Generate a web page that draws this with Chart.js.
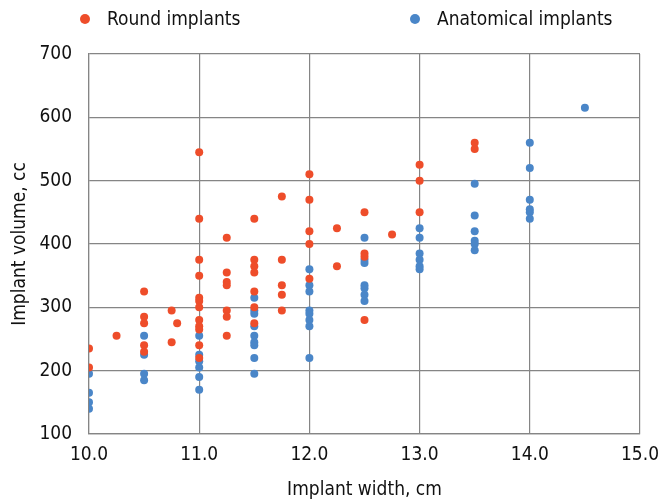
<!DOCTYPE html>
<html>
<head>
<meta charset="utf-8">
<script src="https://cdn.jsdelivr.net/npm/chart.js@4.4.1/dist/chart.umd.min.js"></script>
<style>
    html, body { margin: 0; padding: 0; background: #fff; }
    #wrap { width: 659px; height: 502px; position: relative; }
</style>
</head>
<body>
<div id="wrap"><canvas id="chartImplants"></canvas></div>
<script>
"use strict";

//--------------------------------data---------------------------------
const roundWidth = [
    10, 10,
    10.25,
    10.5, 10.5, 10.5, 10.5, 10.5,
    10.75, 10.75, 10.8,
    11, 11, 11, 11, 11, 11, 11, 11, 11, 11, 11, 11,
    11.25, 11.25, 11.25, 11.25, 11.25, 11.25, 11.25,
    11.5, 11.5, 11.5, 11.5, 11.5, 11.5, 11.5,
    11.75, 11.75, 11.75, 11.75, 11.75,
    12, 12, 12, 12, 12,
    12.25, 12.25,
    12.5, 12.5, 12.5, 12.5,
    12.75,
    13, 13, 13,
    13.5, 13.5
];
const roundVolume = [
    235, 205,
    255,
    325, 285, 275, 240, 230,
    295, 245, 275,
    545, 440, 375, 350, 315, 310, 300, 280, 270, 265, 240, 220,
    410, 355, 340, 335, 295, 285, 255,
    440, 375, 365, 355, 325, 300, 275,
    475, 375, 335, 320, 295,
    510, 470, 420, 400, 345,
    425, 365,
    450, 385, 380, 280,
    415,
    525, 500, 450,
    560, 550
];

const anatWidth = [
    10, 10, 10, 10,
    10.5, 10.5, 10.5, 10.5,
    11, 11, 11, 11, 11, 11,
    11.5, 11.5, 11.5, 11.5, 11.5, 11.5, 11.5, 11.5, 11.5,
    12, 12, 12, 12, 12, 12, 12, 12,
    12.5, 12.5, 12.5, 12.5, 12.5, 12.5, 12.5,
    13, 13, 13, 13, 13, 13,
    13.5, 13.5, 13.5, 13.5, 13.5, 13.5,
    14, 14, 14, 14, 14, 14,
    14.5
];
const anatVolume = [
    195, 165, 150, 140,
    255, 225, 195, 185,
    255, 225, 215, 205, 190, 170,
    315, 295, 290, 270, 255, 245, 240, 220, 195,
    360, 335, 325, 295, 290, 280, 270, 220,
    410, 375, 370, 335, 330, 320, 310,
    425, 410, 385, 375, 365, 360,
    495, 445, 420, 405, 400, 390,
    560, 520, 470, 455, 450, 440,
    615
];

const seriesNames = ['Round implants', 'Anatomical implants'];
const seriesColors = ['#EE4D2A', '#4A86C8'];

const xTitle = 'Implant width, cm';
const yTitle = 'Implant volume, cc';
//--------------------------------end data---------------------------------

const FONT = '"DejaVu Sans Condensed", "DejaVu Sans", sans-serif';
const GRID = '#858585';

function toPoints(xs, ys) {
    return xs.map((x, i) => ({ x: x, y: ys[i] }));
}

// legend drawn at top, items spread apart like the reference
const topLegend = {
    id: 'topLegend',
    afterDraw(chart) {
        const ctx = chart.ctx;
        const spots = [85, 415];
        ctx.save();
        ctx.font = '19px ' + FONT;
        ctx.textBaseline = 'middle';
        ctx.textAlign = 'left';
        chart.data.datasets.forEach((ds, i) => {
            ctx.fillStyle = ds.backgroundColor;
            ctx.beginPath();
            ctx.arc(spots[i], 19, 5, 0, Math.PI * 2);
            ctx.fill();
            ctx.fillStyle = '#111';
            ctx.fillText(ds.label, spots[i] + 22, 20);
        });
        ctx.restore();
    }
};

const ctxImplants = document.getElementById('chartImplants').getContext('2d');
var chartImplants = new Chart(ctxImplants, {
    type: 'scatter',
    data: {
        datasets: [{
            label: seriesNames[0],
            data: toPoints(roundWidth, roundVolume),
            backgroundColor: seriesColors[0],
            borderWidth: 0,
            pointRadius: 4
        }, {
            label: seriesNames[1],
            data: toPoints(anatWidth, anatVolume),
            backgroundColor: seriesColors[1],
            borderWidth: 0,
            pointRadius: 4
        }]
    },
    options: {
        responsive: true,
        maintainAspectRatio: false,
        animation: false,
        layout: {
            padding: { top: 54, right: 19, left: 0, bottom: 0 }
        },
        plugins: {
            legend: { display: false },
            tooltip: { enabled: false }
        },
        scales: {
            x: {
                type: 'linear',
                min: 10,
                max: 15,
                // keep the plot edge where the reference has it
                afterFit: s => {
                    s.height = 68;
                    s.paddingLeft = 0;
                    s.paddingRight = 0;
                },
                grid: { color: GRID, lineWidth: 1.2, drawTicks: false },
                border: { color: GRID, width: 1.2 },
                ticks: {
                    stepSize: 1,
                    padding: 10,
                    color: '#111',
                    font: { family: FONT, size: 19 },
                    callback: v => v.toFixed(1)
                },
                title: {
                    display: true,
                    text: xTitle,
                    color: '#111',
                    font: { family: FONT, size: 19 },
                    padding: { top: 1, bottom: 1 }
                }
            },
            y: {
                type: 'linear',
                min: 100,
                max: 700,
                afterFit: s => { s.width = 89; },
                grid: { color: GRID, lineWidth: 1.2, drawTicks: false },
                border: { color: GRID, width: 1.2 },
                ticks: {
                    stepSize: 100,
                    padding: 17,
                    color: '#111',
                    font: { family: FONT, size: 19 }
                },
                title: {
                    display: true,
                    text: yTitle,
                    color: '#111',
                    font: { family: FONT, size: 19 },
                    padding: { top: 9, bottom: 9 }
                }
            }
        }
    },
    plugins: [topLegend]
});
</script>
</body>
</html>
